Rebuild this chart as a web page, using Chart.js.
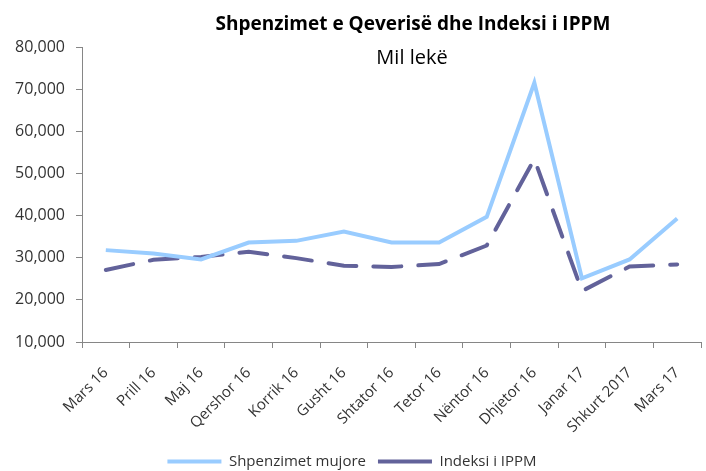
<!DOCTYPE html>
<html>
<head>
<meta charset="utf-8">
<script src="https://cdn.jsdelivr.net/npm/chart.js@4/dist/chart.umd.min.js"></script>
<style>
  body { margin: 0; background: #fff; }
  canvas { display: block; }
</style>
</head>
<body>
<canvas id="grafiku" width="706" height="471"></canvas>
<script>
const muajt = ["Mars 16", "Prill 16", "Maj 16", "Qershor 16", "Korrik 16", "Gusht 16", "Shtator 16",
  "Tetor 16", "Nëntor 16", "Dhjetor 16", "Janar 17", "Shkurt 2017", "Mars 17"];
const shpenzimetMujore = [31800, 31000, 29600, 33600, 34000, 36200, 33600, 33600, 39700, 71500, 25100, 29600, 39300];
const indeksiIPPM = [27100, 29500, 30200, 31400, 29900, 28100, 27800, 28500, 32900, 53400, 22100, 27900, 28400];
const vleratY = [10000, 20000, 30000, 40000, 50000, 60000, 70000, 80000];
const titulli = "Shpenzimet e Qeverisë dhe Indeksi i IPPM";
const nentitulli = "Mil lekë";

const fonti = '"Open Sans", sans-serif';

// titulli vizatohet vete, sepse eshte zhvendosur djathtas nga qendra
const titulliPlugin = {
  id: "titulli",
  afterDraw(chart) {
    const c = chart.ctx;
    c.save();
    c.textAlign = "center";
    c.textBaseline = "alphabetic";
    c.fillStyle = "#000";
    c.font = "bold 19px " + fonti;
    c.fillText(titulli, 413, 30);
    c.font = "20px " + fonti;
    c.fillText(nentitulli, 412, 64);
    c.restore();
  }
};

const ctx = document.getElementById("grafiku").getContext("2d");
new Chart(ctx, {
  type: "line",
  data: {
    labels: muajt,
    datasets: [
      {
        label: "Shpenzimet mujore",
        data: shpenzimetMujore,
        borderColor: "#99ccff",
        backgroundColor: "#99ccff",
        borderWidth: 4,
        pointRadius: 0,
        tension: 0
      },
      {
        label: "Indeksi i IPPM",
        data: indeksiIPPM,
        borderColor: "#62629a",
        backgroundColor: "#62629a",
        borderWidth: 4,
        borderDash: [28, 17],
        borderCapStyle: "round",
        pointRadius: 0,
        tension: 0
      }
    ]
  },
  options: {
    responsive: false,
    animation: false,
    // legjenda del pjeserisht poshte kanavacit si ne origjinal
    layout: { padding: { top: 47, right: 2, left: 0, bottom: -8 } },
    plugins: {
      legend: {
        position: "bottom",
        labels: {
          usePointStyle: true,
          pointStyle: "line",
          pointStyleWidth: 54,
          boxWidth: 54,
          padding: 12,
          color: "#333",
          font: { family: fonti, size: 15 }
        }
      },
      tooltip: { enabled: false }
    },
    scales: {
      x: {
        offset: true,
        afterFit(scale) { scale.height = 100; },
        grid: { drawOnChartArea: false, offset: true, tickLength: 6, color: "#868686" },
        border: { color: "#868686" },
        ticks: {
          minRotation: 45,
          maxRotation: 45,
          padding: 16,
          color: "#333",
          font: { family: fonti, size: 15 }
        }
      },
      y: {
        min: vleratY[0],
        max: vleratY[vleratY.length - 1],
        afterFit(scale) { scale.width = 82; },
        afterBuildTicks(scale) { scale.ticks = vleratY.map(v => ({ value: v })); },
        grid: { drawOnChartArea: false, tickLength: 6, color: "#868686" },
        border: { color: "#868686" },
        ticks: {
          color: "#333",
          padding: 11,
          font: { family: fonti, size: 16 },
          callback: v => v.toLocaleString("en-US")
        }
      }
    }
  },
  plugins: [titulliPlugin]
});
</script>
</body>
</html>
